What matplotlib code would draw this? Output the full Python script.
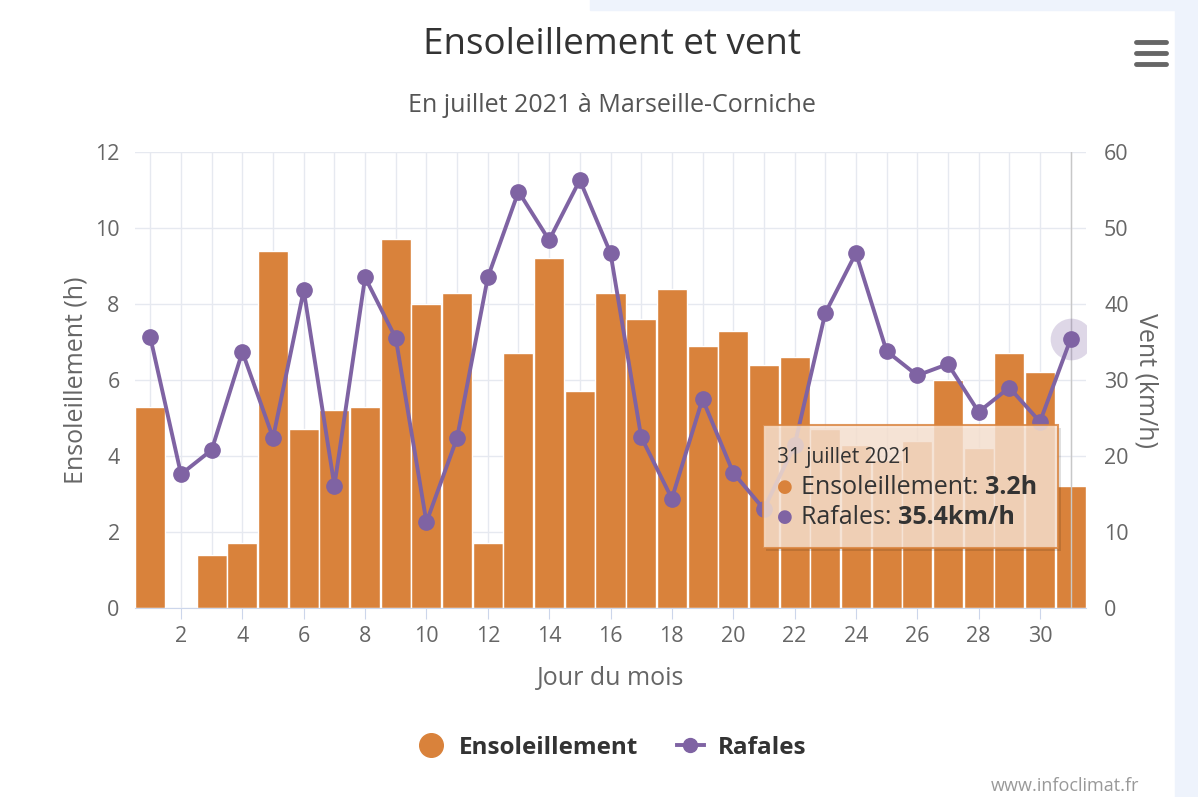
import matplotlib
matplotlib.use('Agg')
import matplotlib.pyplot as plt
from matplotlib.lines import Line2D
from matplotlib.patches import Rectangle
from matplotlib.ticker import MultipleLocator

plt.rcParams['font.family'] = ['Open Sans', 'DejaVu Sans']

# données : juillet 2021, Marseille-Corniche
days = list(range(1, 32))
sun_hours = [5.3, 0.0, 1.4, 1.7, 9.4, 4.7, 5.2, 5.3, 9.7, 8.0,
             8.3, 1.7, 6.7, 9.2, 5.7, 8.3, 7.6, 8.4, 6.9, 7.3,
             6.4, 6.6, 4.7, 4.3, 3.9, 4.4, 6.0, 4.2, 6.7, 6.2, 3.2]
gusts = [35.6, 17.6, 20.8, 33.7, 22.4, 41.8, 16.1, 43.5, 35.5, 11.3,
         22.4, 43.5, 54.8, 48.4, 56.3, 46.7, 22.5, 14.4, 27.5, 17.8,
         13.0, 21.4, 38.8, 46.7, 33.8, 30.6, 32.1, 25.8, 29.0, 24.5, 35.4]
x_ticks = list(range(2, 31, 2))
sun_ticks = [0, 2, 4, 6, 8, 10, 12]
wind_ticks = [0, 10, 20, 30, 40, 50, 60]

orange = '#d9823b'
purple = '#7f63a3'
grid_c = '#e6e9f0'
label_c = '#666666'
W, H = 1198, 797

fig = plt.figure(figsize=(W / 100, H / 100), dpi=100)
fig.patch.set_facecolor('white')
# bandes de fond de la page
fig.patches.append(Rectangle((1175 / W, 0), 1, 1, transform=fig.transFigure,
                             color='#eef3fc', zorder=-10))
fig.patches.append(Rectangle((590 / W, 1 - 10 / H), 1, 1, transform=fig.transFigure,
                             color='#eef3fc', zorder=-10))

ax = fig.add_axes([135 / W, 1 - 608 / H, (1086 - 135) / W, (608 - 152) / H])
ax.set_facecolor('none')
ax.bar(days, sun_hours, width=0.98, color=orange, edgecolor='white', linewidth=1, zorder=2)
ax.set_xlim(0.5, 31.5)
ax.set_ylim(0, 12)
ax.set_yticks(sun_ticks)
ax.set_xticks(x_ticks)
ax.xaxis.set_minor_locator(MultipleLocator(1))
ax.grid(True, which='both', axis='x', color=grid_c, linewidth=1, zorder=0)
ax.grid(True, axis='y', color=grid_c, linewidth=1, zorder=0)
ax.set_axisbelow(True)
for s in ['top', 'left', 'right']:
    ax.spines[s].set_visible(False)
ax.spines['bottom'].set_color('#ccd6eb')
ax.tick_params(axis='x', which='major', length=8, color='#ccd6eb', pad=5,
               labelsize=15.5, labelcolor=label_c)
ax.tick_params(axis='x', which='minor', length=0)
ax.tick_params(axis='y', length=0, pad=11, labelsize=15.5, labelcolor=label_c)
ax.set_xlabel('Jour du mois', fontsize=18, color=label_c)
ax.xaxis.set_label_coords(0.5, -0.128)
ax.set_ylabel('Ensoleillement (h)', fontsize=18, color=label_c)
ax.yaxis.set_label_coords(-0.049, 0.5)

ax2 = ax.twinx()
ax2.set_ylim(0, 60)
ax2.set_yticks(wind_ticks)
for s in ['top', 'left', 'right', 'bottom']:
    ax2.spines[s].set_visible(False)
ax2.tick_params(axis='y', length=0, pad=13, labelsize=15.5, labelcolor=label_c)
ax2.set_ylabel('Vent (km/h)', fontsize=18, color=label_c, rotation=270)
ax2.yaxis.set_label_coords(1.076, 0.5)
# curseur vertical sur le dernier jour
ax2.axvline(days[-1], color='#c8c8c8', linewidth=1, zorder=1)
ax2.plot(days, gusts, color=purple, linewidth=2.8, marker='o', markersize=11, zorder=3)
ax2.plot(days[-1], gusts[-1], marker='o', markersize=30, color=purple, alpha=0.25,
         markeredgewidth=0, zorder=2)

# titres
fig.text(612 / W, 1 - 45 / H, 'Ensoleillement et vent', ha='center', va='center',
         fontsize=26.5, color='#333333')
fig.text(612 / W, 1 - 105 / H, 'En juillet 2021 à Marseille-Corniche', ha='center',
         va='center', fontsize=18, color='#555555')

# légende
handles = [Line2D([], [], linestyle='none', marker='o', markersize=17, color=orange),
           Line2D([], [], color=purple, linewidth=2.8, marker='o', markersize=10)]
leg = fig.legend(handles, ['Ensoleillement', 'Rafales'], loc='center', ncol=2,
                 bbox_to_anchor=(612 / W, 1 - 748 / H), frameon=False,
                 prop={'size': 17.5, 'weight': 'bold'}, handlelength=1.1,
                 columnspacing=1.6, handletextpad=0.6)
for t in leg.get_texts():
    t.set_color('#333333')

# menu
for yy in [42, 53, 64]:
    fig.add_artist(Line2D([1136 / W, 1166 / W], [1 - yy / H, 1 - yy / H],
                          color='#666666', linewidth=3.5, solid_capstyle='round'))

fig.text(1065 / W, 11 / H, 'www.infoclimat.fr', ha='center', va='center',
         fontsize=13, color='#999999')

# info-bulle
x0, y0, x1, y1 = 763, 425, 1058, 548
fig.patches.append(Rectangle(((x0 + 3) / W, 1 - (y1 + 3) / H), (x1 - x0) / W, (y1 - y0) / H,
                             transform=fig.transFigure, facecolor='black', alpha=0.12,
                             edgecolor='none', zorder=9))
fig.patches.append(Rectangle((x0 / W, 1 - y1 / H), (x1 - x0) / W, (y1 - y0) / H,
                             transform=fig.transFigure, facecolor='#fae4d3', alpha=0.82,
                             edgecolor=orange, linewidth=1.5, zorder=10))
fig.text(777 / W, 1 - 457 / H, '31 juillet 2021', fontsize=15, color='#333333',
         va='center', zorder=11)

renderer = fig.canvas.get_renderer()
rows = [(orange, 'Ensoleillement: ', f'{sun_hours[-1]}h', 487),
        (purple, 'Rafales: ', f'{gusts[-1]}km/h', 517)]
for col, lab, val, yy in rows:
    fig.text(777 / W, 1 - yy / H, '●', fontsize=13, color=col, va='center', zorder=11,
             family=['DejaVu Sans'])
    t1 = fig.text(801 / W, 1 - yy / H, lab, fontsize=18, color='#333333', va='center',
                  zorder=11)
    bb = t1.get_window_extent(renderer)
    fig.text(bb.x1 / W, 1 - yy / H, val, fontsize=18, color='#333333', va='center',
             weight='bold', zorder=11)

fig.savefig('out.png', dpi=100)
